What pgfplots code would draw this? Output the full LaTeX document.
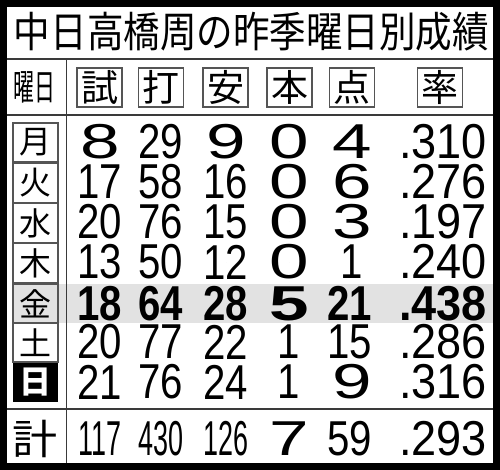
\documentclass[border=0pt]{standalone}
\usepackage{fontspec}
\usepackage{pgfplots}
\pgfplotsset{compat=1.18}

\newfontfamily\numN[FakeStretch=0.82]{Liberation Sans}
\newfontfamily\numW[FakeStretch=1.45]{Liberation Sans}
\newfontfamily\numC[FakeStretch=0.55]{Liberation Sans}
\newfontfamily\numR[FakeStretch=0.92]{Liberation Sans}
\newfontfamily\cjkT[FakeStretch=0.87]{Noto Sans CJK JP}
\newfontfamily\cjkH[FakeStretch=1.0]{Noto Sans CJK JP}
\newfontfamily\cjkY[FakeStretch=0.58]{Noto Sans CJK JP}
\newfontfamily\cjkK[FakeStretch=1.1]{Noto Sans CJK JP}

\definecolor{band}{HTML}{E2E2E2}
\definecolor{rule}{HTML}{3A3A3A}
\definecolor{boxline}{HTML}{555555}

\pgfplotsset{
  cell/.style={only marks, mark=*, mark size=0pt,
    mark options={draw=none, fill=none},
    point meta=explicit symbolic, nodes near coords,
    every node near coord/.append style={anchor=center, inner sep=0pt, text=black, #1}},
}

\begin{document}
\begin{tikzpicture}
\begin{axis}[
  width=500pt, height=470pt, scale only axis,
  xmin=0, xmax=500, ymin=0, ymax=470, y dir=reverse,
  axis lines=none, clip=false,
]
% highlighted row
\fill[band] (13,284) rectangle (493,323);

% rules
\draw[rule, line width=1.5pt] (7,59) -- (493,59);
\draw[rule, line width=1.5pt] (7,115) -- (493,115);
\draw[rule, line width=1.5pt] (7,409) -- (493,409);
\draw[rule, line width=1.5pt] (66.5,59) -- (66.5,463);
\draw[black, line width=7pt] (3.5,3.5) rectangle (496.5,466.5);

% title
\addplot[cell={font=\cjkT\fontsize{42}{42}\selectfont}] table[meta=t] {
x y t
251.5 32 中日高橋周の昨季曜日別成績
};

% header
\addplot[cell={font=\cjkY\fontsize{36}{36}\selectfont}] table[meta=t] {
x y t
34 87.5 曜日
};
\addplot[cell={font=\cjkH\fontsize{37}{37}\selectfont, draw=boxline, line width=1.2pt,
  minimum width=45pt, minimum height=39pt}] table[meta=t] {
x y t
99.5 87.5 試
161 87.5 打
225.5 87.5 安
289.5 87.5 本
352 87.5 点
440 87.5 率
};

% day labels
\addplot[cell={font=\cjkH\fontsize{32}{32}\selectfont, draw=boxline, line width=1.2pt,
  minimum width=45pt, minimum height=39pt}] table[meta=t] {
x y t
35.5 142.5 月
35.5 183 火
35.5 223 水
35.5 263 木
35.5 342.5 土
};
\addplot[cell={font=\cjkH\fontsize{32}{32}\selectfont, draw=boxline, fill=band, line width=1.2pt,
  minimum width=45pt, minimum height=39pt}] table[meta=t] {
x y t
35.5 303.5 金
};
\addplot[cell={font=\cjkH\bfseries\fontsize{32}{32}\selectfont, fill=black, text=white,
  minimum width=45pt, minimum height=39pt}] table[meta=t] {
x y t
35.5 382.5 日
};
\addplot[cell={font=\cjkK\fontsize{41}{41}\selectfont}] table[meta=t] {
x y t
35 439 計
};

% two-digit values
\addplot[cell={font=\numN\fontsize{49}{49}\selectfont}] table[meta=t] {
x y t
161 142 29
100 182 17
161 182 58
226 182 16
100 222 20
161 222 76
226 222 15
100 262 13
161 262 50
226 262 12
352 262 1
100 342 20
161 342 77
226 342 22
289 342 1
350 342 15
100 382 21
161 382 76
226 382 24
289 382 1
350 439 59
};

% single-digit values
\addplot[cell={font=\numW\fontsize{49}{49}\selectfont}] table[meta=t] {
x y t
100 142 8
226 142 9
289 142 0
352 142 4
289 182 0
352 182 6
289 222 0
352 222 3
289 262 0
352 382 9
289 439 7
};

% three-digit totals
\addplot[cell={font=\numC\fontsize{49}{49}\selectfont}] table[meta=t] {
x y t
100 439 117
161 439 430
226 439 126
};

% batting averages
\addplot[cell={font=\numR\fontsize{49}{49}\selectfont}] table[meta=t] {
x y t
443 142 .310
443 182 .276
443 222 .197
443 262 .240
443 342 .286
443 382 .316
443 439 .293
};

% Friday row, bold
\addplot[cell={font=\numN\bfseries\fontsize{49}{49}\selectfont}] table[meta=t] {
x y t
100 303.5 18
161 303.5 64
226 303.5 28
350 303.5 21
};
\addplot[cell={font=\numW\bfseries\fontsize{49}{49}\selectfont}] table[meta=t] {
x y t
289 303.5 5
};
\addplot[cell={font=\numR\bfseries\fontsize{49}{49}\selectfont}] table[meta=t] {
x y t
443 303.5 .438
};
\end{axis}
\end{tikzpicture}
\end{document}
